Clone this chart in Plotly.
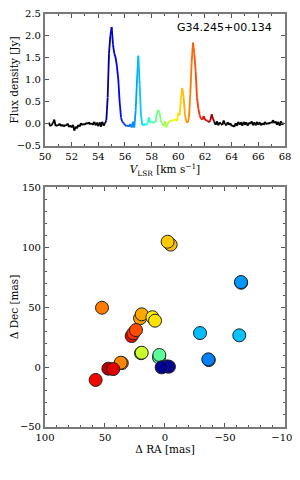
import numpy as np
import plotly.graph_objects as go

# ---- spectrum data ----
velocity = [50.3, 50.4, 50.5, 50.6, 50.7, 50.8, 50.9, 51.0, 51.1, 51.2, 51.3, 51.4, 51.5, 51.6, 51.7, 51.8, 51.9,
            52.0, 52.1, 52.2, 52.3, 52.4, 52.5, 52.6, 52.7, 52.8, 52.9, 53.0, 53.1, 53.2, 53.3, 53.4, 53.5, 53.6,
            53.7, 53.8, 53.9, 54.0, 54.1, 54.2, 54.3, 54.4, 54.5, 54.6, 54.7, 54.8, 54.9, 55.0, 55.1, 55.2, 55.3,
            55.4, 55.5, 55.6, 55.7, 55.8, 55.9, 56.0, 56.1, 56.2, 56.3, 56.4, 56.5, 56.6, 56.7, 56.8, 56.9, 57.0,
            57.1, 57.2, 57.3, 57.4, 57.5, 57.6, 57.7, 57.8, 57.9, 58.0, 58.1, 58.2, 58.3, 58.4, 58.5, 58.6, 58.7,
            58.8, 58.9, 59.0, 59.1, 59.2, 59.3, 59.4, 59.5, 59.6, 59.7, 59.8, 59.9, 60.0, 60.1, 60.2, 60.3, 60.4,
            60.5, 60.6, 60.7, 60.8, 60.9, 61.0, 61.1, 61.2, 61.3, 61.4, 61.5, 61.6, 61.7, 61.8, 61.9, 62.0, 62.1,
            62.2, 62.3, 62.4, 62.5, 62.6, 62.7, 62.8, 62.9, 63.0, 63.1, 63.2, 63.3, 63.4, 63.5, 63.6, 63.7, 63.8,
            63.9, 64.0, 64.1, 64.2, 64.3, 64.4, 64.5, 64.6, 64.7, 64.8, 64.9, 65.0, 65.1, 65.2, 65.3, 65.4, 65.5,
            65.6, 65.7, 65.8, 65.9, 66.0, 66.1, 66.2, 66.3, 66.4, 66.5, 66.6, 66.7, 66.8, 66.9, 67.0, 67.1, 67.2,
            67.3, 67.4, 67.5, 67.6, 67.7, 67.8, 67.9]
flux = [0.03, -0.05, -0.02, 0.02, 0.10, -0.05, -0.02, -0.04, 0.01, -0.05, -0.01, -0.06, -0.02, -0.04, 0.01, -0.07, -0.03,
        -0.08, -0.02, -0.15, -0.06, -0.10, -0.02, -0.06, 0.02, -0.03, 0.01, -0.02, 0.03, 0.00, 0.04, -0.01, 0.02, -0.02,
        0.05, -0.03, 0.03, -0.05, 0.04, -0.06, 0.05, -0.04, 0.02, 0.08, 0.60, 1.60, 2.00, 2.20, 1.80, 1.60, 1.50,
        1.30, 1.00, 0.50, 0.15, 0.05, 0.02, -0.02, -0.05, -0.03, -0.06, 0.00, -0.08, 0.05, -0.08, 0.30, 1.00, 1.55,
        0.90, 0.20, -0.02, -0.03, 0.00, -0.02, 0.02, 0.15, 0.03, 0.05, 0.02, 0.06, 0.04, 0.25, 0.32, 0.25, 0.05,
        0.02, -0.05, 0.06, -0.08, 0.00, 0.05, 0.08, 0.05, 0.10, 0.08, 0.12, 0.07, 0.25, 0.20, 0.60, 0.82, 0.60,
        0.20, 0.05, 0.03, 0.15, 0.70, 1.40, 1.85, 1.60, 1.20, 0.60, 0.35, 0.20, 0.12, 0.10, 0.18, 0.10, 0.08,
        0.07, 0.04, 0.08, 0.22, 0.12, 0.05, -0.02, 0.06, -0.03, 0.04, 0.00, -0.02, 0.08, 0.00, -0.03, 0.04, -0.02,
        0.02, -0.05, -0.03, -0.07, 0.02, -0.04, 0.05, -0.02, 0.04, -0.04, 0.05, -0.02, 0.04, -0.04, 0.03, 0.00, 0.06,
        -0.03, 0.04, -0.03, 0.05, -0.02, 0.04, -0.03, 0.02, -0.02, 0.05, -0.01, 0.03, 0.00, 0.04, 0.02, 0.09, 0.02,
        0.06, -0.02, 0.05, -0.04, 0.06, -0.02, 0.03]
v_min_color = 54.5
v_max_color = 62.7
source_name = "G34.245+00.134"

# ---- maser spot data ----
spot_ra = [-4.7, -2.2, -63.5, -63.3, 52.5, -29.2, -61.9, -36.5, -36.1, 20.8, 19.4, 10.5, 8.3,
           27.8, 26.4, 24.2, 20.0, 19.4, 5.0, 4.7, -3.3, -1.5, 2.8, 36.0, 36.9, 47.2, 43.1, 57.8]
spot_dec = [102.0, 104.4, 70.2, 70.8, 49.4, 28.3, 26.4, 5.8, 6.4, 40.6, 43.9, 41.5, 38.6,
            25.8, 28.1, 30.8, 11.5, 11.9, 8.0, 10.0, 0.3, 0.5, -0.3, 3.2, 3.6, -1.4, -1.7, -10.8]
spot_vel = [60.3, 60.2, 56.7, 56.75, 60.9, 57.05, 57.1, 56.5, 56.55, 60.6, 60.5, 59.9, 60.0,
            61.9, 61.6, 61.3, 59.3, 59.4, 58.2, 58.3, 54.9, 54.8, 54.6, 60.9, 60.8, 62.3, 62.0, 61.9]


def jet(t):
    t = min(max(t, 0.0), 1.0)
    r = np.interp(t, [0, 0.35, 0.66, 0.89, 1.0], [0, 0, 1, 1, 0.5])
    g = np.interp(t, [0, 0.125, 0.375, 0.64, 0.91, 1.0], [0, 0, 1, 1, 0, 0])
    b = np.interp(t, [0, 0.11, 0.34, 0.65, 1.0], [0.5, 1, 1, 0, 0])
    return "rgb(%d,%d,%d)" % (round(r * 255), round(g * 255), round(b * 255))


def vcolor(v):
    if v < v_min_color or v > v_max_color:
        return "black"
    return jet((v - v_min_color) / (v_max_color - v_min_color))


fig = go.Figure()

# spectrum as coloured segments
for i in range(len(velocity) - 1):
    vm = 0.5 * (velocity[i] + velocity[i + 1])
    fig.add_trace(go.Scatter(x=velocity[i:i + 2], y=flux[i:i + 2], mode="lines",
                             line=dict(color=vcolor(vm), width=1.8),
                             xaxis="x", yaxis="y", showlegend=False, hoverinfo="skip"))

fig.add_trace(go.Scatter(x=spot_ra, y=spot_dec, mode="markers",
                         marker=dict(size=13, color=[vcolor(v) for v in spot_vel],
                                     line=dict(color="#222", width=1)),
                         xaxis="x2", yaxis="y2", showlegend=False))

serif = "DejaVu Serif"
frame = "#7a7a7a"
common = dict(showline=True, linecolor=frame, linewidth=2, mirror="allticks",
              ticks="inside", ticklen=4, tickcolor="#555", tickwidth=1,
              showgrid=False, zeroline=False, automargin=False, ticklabeloverflow="allow",
              tickfont=dict(family=serif, size=10, color="black"))
tfont = dict(family=serif, size=10.5, color="black")

# page body adds an 8px margin, so the figure is 292x464 placed at (8, 8)
fig.update_layout(
    width=292, height=464,
    margin=dict(l=0, r=0, t=0, b=0),
    paper_bgcolor="white", plot_bgcolor="white",
    xaxis=dict(domain=[0.1267, 0.9486], range=[50, 68], dtick=2, tick0=50,
               minor=dict(dtick=1, ticks="inside", ticklen=2, tickcolor="#555"),
               anchor="y",
               title=dict(text="<i>V</i><sub>LSR</sub> [km s<sup>−1</sup>]", font=tfont, standoff=0),
               **common),
    yaxis=dict(domain=[0.7026, 0.9871], range=[-0.5, 2.5], dtick=0.5, tickformat=".1f",
               anchor="x",
               title=dict(text="Flux density [Jy]", font=tfont, standoff=2),
               **common),
    xaxis2=dict(domain=[0.1267, 0.9486], range=[100, -100], dtick=50,
                minor=dict(dtick=10, ticks="inside", ticklen=2, tickcolor="#555"),
                anchor="y2",
                title=dict(text="Δ RA [mas]", font=tfont, standoff=0),
                **common),
    yaxis2=dict(domain=[0.0970, 0.6142], range=[-50, 150], dtick=50,
                minor=dict(dtick=10, ticks="inside", ticklen=2, tickcolor="#555"),
                anchor="x2",
                title=dict(text="Δ Dec [mas]", font=tfont, standoff=2),
                **common),
    annotations=[dict(text=source_name, xref="x", yref="y", x=63.5, y=2.19,
                      showarrow=False, xanchor="center", yanchor="middle",
                      font=dict(family="DejaVu Sans", size=11, color="black"))],
)

fig.write_html("out.html")
